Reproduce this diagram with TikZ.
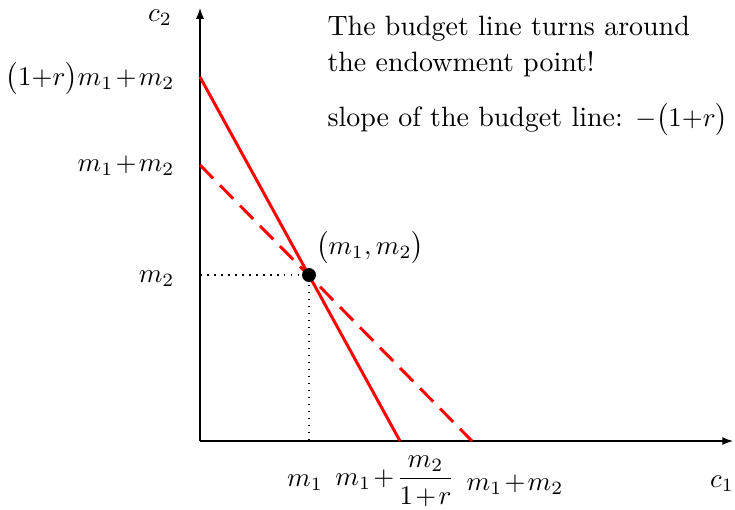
\documentclass[tikz,border=0pt]{standalone}
\usetikzlibrary{arrows.meta}
\medmuskip=1.5mu plus 1mu minus 1mu
\thickmuskip=2mu
\begin{document}
\begin{tikzpicture}[x=0.372pt,y=-0.372pt,
  axis/.style={line width=0.5pt,-{Latex[length=4pt,width=3pt]}},
  budget/.style={red,line width=1.1pt},
  budgetdash/.style={red,line width=1.1pt,dash pattern=on 7pt off 3.6pt},
  guide/.style={line width=0.6pt,dotted},
  lab/.style={inner sep=0pt,font=\fontsize{10}{12}\selectfont},
  txt/.style={inner sep=0pt,anchor=west,font=\fontsize{10.4}{13}\selectfont}]
\useasboundingbox (0,0) rectangle (735,509);
\coordinate (O) at (200,441);
\coordinate (Ytop) at (200,8);
\coordinate (Xend) at (733,441);
\coordinate (A) at (200,77);
\coordinate (B) at (400,441);
\coordinate (C) at (200,165);
\coordinate (D) at (472,441);
\coordinate (Ey) at (200,275);
\coordinate (Ex) at (309,441);
\draw[axis] (O) -- (Ytop);
\draw[axis] (O) -- (Xend);
\draw[guide] (Ey) -- (309,275) coordinate (E) -- (Ex);
\draw[budgetdash] (C) -- (D);
\draw[budget] (A) -- (B);
\node[circle,fill=black,inner sep=0pt,minimum size=5.2pt] (pt) at (E) {};
\node[lab] (c2) at (160,18) {$c_2$};
\node[lab,anchor=east] (l1) at (175,79) {$\big(1{+}r\big)m_1+m_2$};
\node[lab,anchor=east] (l2) at (175,166) {$m_1+m_2$};
\node[lab,anchor=east] (l3) at (175,279) {$m_2$};
\node[lab] (b1) at (305,483) {$m_1$};
\node[lab] (b2) at (395,481) {$m_1+\displaystyle\frac{m_2}{1+r}$};
\node[lab] (b3) at (515,485) {$m_1+m_2$};
\node[lab] (c1) at (722,484) {$c_1$};
\node[lab] (pl) at (370,248) {$\big(m_1,m_2\big)$};
\node[txt] (t1) at (327,29) {The budget line turns around};
\node[txt] (t2) at (327,64) {the endowment point!};
\node[txt] (t3) at (327,120) {slope of the budget line: $-\big(1{+}r\big)$};
\end{tikzpicture}
\end{document}
